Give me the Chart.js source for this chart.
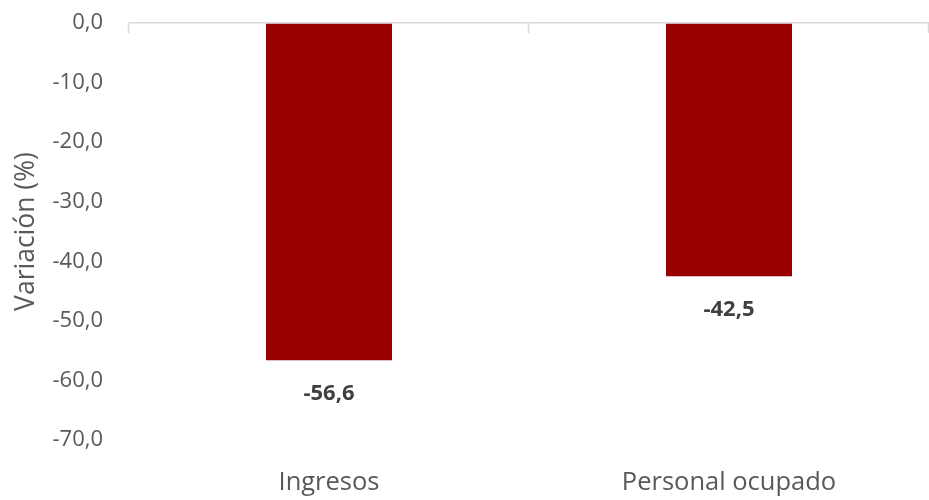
<!DOCTYPE html>
<html>
<head>
<meta charset="utf-8">
<script src="https://cdn.jsdelivr.net/npm/chart.js@4"></script>
<style>
  body { margin: 0; background: #fff; }
</style>
</head>
<body>
<canvas id="grafico" width="929" height="500"></canvas>
<script>
const categorias = ['Ingresos', 'Personal ocupado'];
const variacion = [-56.6, -42.5];
const ticksY = [0, -10, -20, -30, -40, -50, -60, -70];

const fmt = v => v.toFixed(1).replace('.', ',');

// etiquetas debajo de cada barra + marquitas del eje en el cero
const extras = {
    id: 'extras',
    afterDatasetsDraw(chart) {
        const ctx = chart.ctx;
        const x = chart.scales.x, y = chart.scales.y;
        const y0 = y.getPixelForValue(0);
        ctx.save();
        ctx.strokeStyle = '#d9d9d9';
        ctx.lineWidth = 1.5;
        const n = categorias.length;
        for (let i = 0; i <= n; i++) {
            const px = Math.round(x.left + i * x.width / n) - 0.5;
            ctx.beginPath();
            ctx.moveTo(px, y0);
            ctx.lineTo(px, y0 + 10);
            ctx.stroke();
        }
        ctx.fillStyle = '#404040';
        ctx.font = 'bold 22px "Open Sans"';
        ctx.textAlign = 'center';
        ctx.textBaseline = 'middle';
        chart.getDatasetMeta(0).data.forEach((bar, i) => {
            ctx.fillText(fmt(variacion[i]), bar.x, bar.y + 34);
        });
        ctx.restore();
    }
};

new Chart(document.getElementById('grafico'), {
    type: 'bar',
    data: {
        labels: categorias,
        datasets: [{
            data: variacion,
            backgroundColor: '#990000',
            barPercentage: 0.9,
            categoryPercentage: 0.35
        }]
    },
    options: {
        responsive: false,
        animation: false,
        layout: { padding: { top: 23, right: -6, left: 0, bottom: 0 } },
        plugins: { legend: { display: false }, tooltip: { enabled: false } },
        scales: {
            x: {
                grid: { display: false },
                border: { display: false },
                ticks: { color: '#595959', font: { family: 'Open Sans', size: 25.5 }, padding: 19 },
                afterFit: s => { s.height = 60; }
            },
            y: {
                min: -70,
                max: 0,
                afterBuildTicks: s => { s.ticks = ticksY.map(v => ({ value: v })); },
                grid: {
                    drawTicks: false,
                    lineWidth: 1.5,
                    color: c => c.tick && c.tick.value === 0 ? '#d9d9d9' : 'transparent'
                },
                border: { display: false },
                ticks: {
                    color: '#595959',
                    font: { family: 'Open Sans', size: 22 },
                    padding: 26,
                    callback: v => fmt(v)
                },
                title: {
                    display: true,
                    text: 'Variación (%)',
                    color: '#595959',
                    font: { family: 'Open Sans', size: 26.5 },
                    padding: { top: 11, bottom: 0 }
                },
                afterFit: s => {
                    s.width = 129;
                    // que el padding de las etiquetas no empuje el área del gráfico
                    s.paddingTop = 0;
                    s.paddingBottom = 0;
                }
            }
        }
    },
    plugins: [extras]
});
</script>
</body>
</html>
